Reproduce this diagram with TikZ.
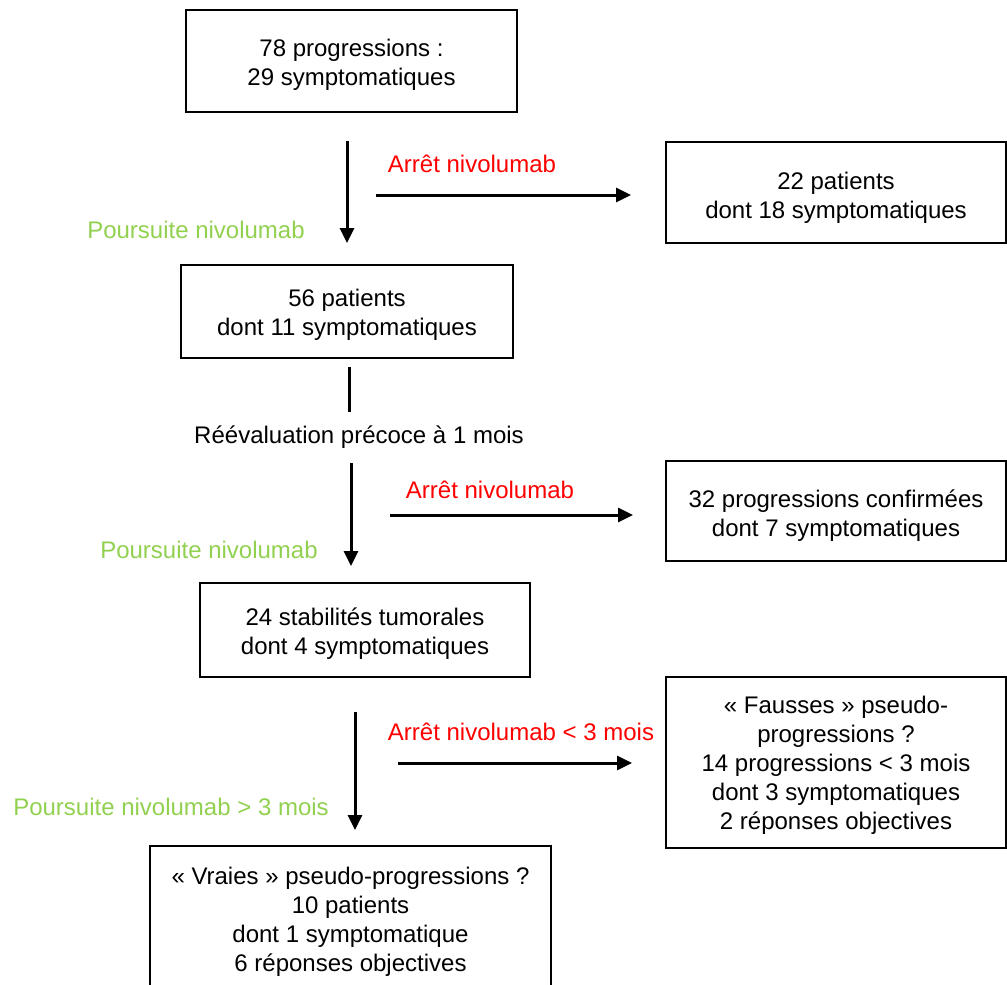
\documentclass[tikz,border=0pt]{standalone}
\usepackage{fontspec}
\setmainfont{Liberation Sans}
\usetikzlibrary{arrows.meta}
\definecolor{stopred}{RGB}{255,0,0}
\definecolor{goongreen}{RGB}{146,208,80}
\begin{document}
\begin{tikzpicture}[x=1pt,y=-1pt,
  font=\fontsize{24}{29}\selectfont,
  box/.style={draw=black,line width=1.4pt,inner sep=0pt},
  boxtext/.style={align=center,inner sep=0pt},
  flow/.style={line width=3pt,-{Triangle[length=15pt,width=14pt]}},
  plain/.style={line width=3pt},
  stoplbl/.style={text=stopred,anchor=base,inner sep=0pt},
  golbl/.style={text=goongreen,anchor=base,inner sep=0pt},
  notelbl/.style={text=black,anchor=base,inner sep=0pt}]
\useasboundingbox (0,0) rectangle (1007,985);

% box frames
\node[box,minimum width=331pt,minimum height=102pt] (start) at (351.5,61) {};
\node[box,minimum width=340pt,minimum height=101pt] (stop1) at (836,192.5) {};
\node[box,minimum width=332pt,minimum height=93pt] (cont1) at (347,311.5) {};
\node[box,minimum width=340pt,minimum height=100pt] (stop2) at (836,511) {};
\node[box,minimum width=330pt,minimum height=94pt] (cont2) at (365,630) {};
\node[box,minimum width=340pt,minimum height=171pt] (stop3) at (836,762.5) {};
\node[box,minimum width=401pt,minimum height=148pt] (cont3) at (350.5,920) {};

% box contents
\node[boxtext] (startT) at ([yshift=-4pt]start.center) {78 progressions :\\29 symptomatiques};
\node[boxtext] (stop1T) at ([yshift=-5pt]stop1.center) {22 patients\\dont 18 symptomatiques};
\node[boxtext] (cont1T) at ([yshift=-3pt]cont1.center) {56 patients\\dont 11 symptomatiques};
\node[boxtext] (stop2T) at ([yshift=-5pt]stop2.center) {32 progressions confirmées\\dont 7 symptomatiques};
\node[boxtext] (cont2T) at ([yshift=-4pt]cont2.center) {24 stabilités tumorales\\dont 4 symptomatiques};
\node[boxtext] (stop3T) at ([yshift=-3pt]stop3.center) {« Fausses » pseudo-\\progressions ?\\14 progressions < 3 mois\\dont 3 symptomatiques\\2 réponses objectives};
\node[boxtext] (cont3T) at ([yshift=-2pt]cont3.center) {« Vraies » pseudo-progressions ?\\10 patients\\dont 1 symptomatique\\6 réponses objectives};

% arrow end points
\coordinate (v1a) at (347,141);  \coordinate (v1b) at (347,243);
\coordinate (h1a) at (376,195);  \coordinate (h1b) at (631,195);
\coordinate (v2a) at (349,367);  \coordinate (v2b) at (349,412);
\coordinate (v3a) at (351,463);  \coordinate (v3b) at (351,566);
\coordinate (h2a) at (390,515);  \coordinate (h2b) at (633,515);
\coordinate (v4a) at (355,712);  \coordinate (v4b) at (355,830);
\coordinate (h3a) at (398,763);  \coordinate (h3b) at (632,763);

% connectors
\draw[flow] (v1a) -- (v1b);
\draw[flow] (h1a) -- (h1b);
\draw[plain] (v2a) -- (v2b);
\draw[flow] (v3a) -- (v3b);
\draw[flow] (h2a) -- (h2b);
\draw[flow] (v4a) -- (v4b);
\draw[flow] (h3a) -- (h3b);

% labels
\node[stoplbl] (l1) at (472,172) {Arrêt nivolumab};
\node[golbl] (l2) at (196,238) {Poursuite nivolumab};
\node[notelbl] (l3) at (359,443) {Réévaluation précoce à 1 mois};
\node[stoplbl] (l4) at (490,498) {Arrêt nivolumab};
\node[golbl] (l5) at (209,558) {Poursuite nivolumab};
\node[stoplbl] (l6) at (521,740) {Arrêt nivolumab < 3 mois};
\node[golbl] (l7) at (171,815) {Poursuite nivolumab > 3 mois};
\end{tikzpicture}
\end{document}
